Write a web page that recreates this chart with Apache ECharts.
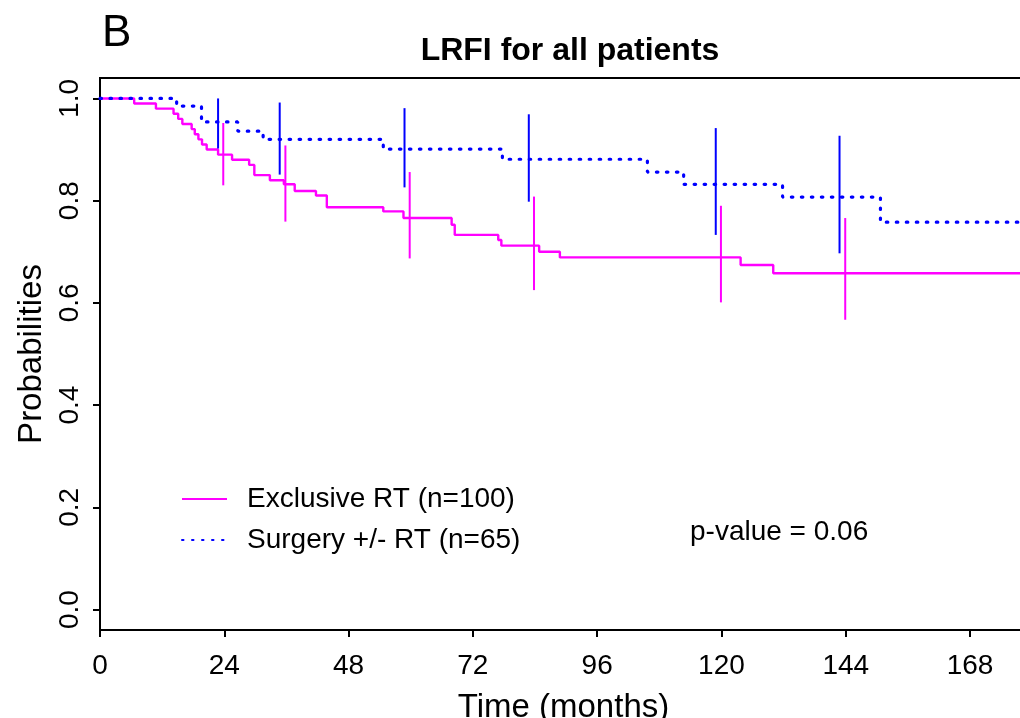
<!DOCTYPE html>
<html>
<head>
<meta charset="utf-8">
<script src="https://cdn.jsdelivr.net/npm/echarts@6/dist/echarts.min.js"></script>
<style>
  html, body { margin: 0; padding: 0; background: #fff; }
  #chart { width: 1020px; height: 718px; }
</style>
</head>
<body>
<div id="chart"></div>
<script>
// Kaplan-Meier steps: [month, probability]
const rtSteps = [
  [0, 1], [6.6, 0.99], [10.8, 0.98], [14.2, 0.97], [15.1, 0.96], [15.9, 0.95],
  [17.7, 0.94], [18.3, 0.93], [19.0, 0.92], [19.7, 0.91], [20.6, 0.90],
  [22.8, 0.89], [25.5, 0.88], [28.8, 0.87], [29.8, 0.85], [32.8, 0.84],
  [35.5, 0.832], [37.6, 0.819], [41.7, 0.81], [43.8, 0.787], [54.7, 0.779],
  [58.6, 0.766], [67.9, 0.753], [68.5, 0.733], [76.9, 0.723], [77.5, 0.712],
  [84.8, 0.70], [88.8, 0.689], [123.7, 0.674], [130.0, 0.658], [179, 0.658]
];
const surgerySteps = [
  [0, 1], [14.8, 0.985], [19.6, 0.954], [26.6, 0.936], [31.5, 0.92],
  [54.7, 0.901], [77.7, 0.881], [105.7, 0.856], [112.7, 0.832],
  [131.8, 0.807], [150.7, 0.758], [179, 0.758]
];

// confidence interval bars
const rtCiTimes = [23.8, 35.8, 59.8, 83.8, 119.9, 143.9];
const rtCiLow = [0.830, 0.759, 0.687, 0.625, 0.601, 0.567];
const rtCiHigh = [0.952, 0.908, 0.856, 0.808, 0.790, 0.766];
const surgeryCiTimes = [22.8, 34.7, 58.8, 82.8, 118.9, 142.8];
const surgeryCiLow = [0.902, 0.851, 0.826, 0.798, 0.733, 0.697];
const surgeryCiHigh = [1.0, 0.992, 0.981, 0.969, 0.942, 0.927];

const xTicks = [0, 24, 48, 72, 96, 120, 144, 168];
const yTicks = [0, 0.2, 0.4, 0.6, 0.8, 1.0];

const seriesNames = ["Exclusive RT (n=100)", "Surgery +/- RT (n=65)"];
const MAGENTA = "#ff00ff";
const BLUE = "#0000ff";
const FONT = "'Liberation Sans', Arial, sans-serif";

function ciSeries(times, low, high, color) {
  return {
    type: "custom",
    silent: true,
    clip: true,
    data: times.map((t, i) => [t, low[i], high[i]]),
    renderItem: (params, api) => {
      const p1 = api.coord([api.value(0), api.value(1)]);
      const p2 = api.coord([api.value(0), api.value(2)]);
      return {
        type: "line",
        shape: { x1: p1[0], y1: p1[1], x2: p2[0], y2: p2[1] },
        style: { stroke: color, lineWidth: 2 },
      };
    },
    z: 3,
  };
}

const chart = echarts.init(document.getElementById("chart"));

const option = {
  animation: false,
  backgroundColor: "#fff",
  textStyle: { fontFamily: FONT },
  title: [
    { text: "B", left: 97, top: 7, textStyle: { fontSize: 44, fontWeight: "normal", color: "#000", fontFamily: FONT } },
    { text: "LRFI for all patients", left: 565, top: 30, textAlign: "center",
      textStyle: { fontSize: 32, fontWeight: "bold", color: "#000", fontFamily: FONT } },
  ],
  grid: {
    left: 100, top: 78, width: 927, height: 552,
    outerBoundsMode: "none",
    show: true, borderColor: "#000", borderWidth: 2, backgroundColor: "transparent",
  },
  legend: {
    orient: "vertical",
    left: 181, top: 485, padding: 0,
    itemWidth: 45, itemHeight: 14, itemGap: 13,
    itemStyle: { opacity: 0 },
    data: seriesNames,
    textStyle: { fontSize: 28, color: "#000", fontFamily: FONT, padding: [0, 0, 0, 15] },
  },
  xAxis: {
    type: "value", min: 0, max: 179,
    name: "Time (months)", nameLocation: "middle", nameGap: 61,
    nameTextStyle: { fontSize: 33, color: "#000", fontFamily: FONT },
    axisLine: { show: false, onZero: false },
    axisTick: { show: true, inside: false, customValues: xTicks, length: 7, lineStyle: { color: "#000", width: 2 } },
    axisLabel: { customValues: xTicks, fontSize: 28, color: "#000", margin: 22, fontFamily: FONT },
    splitLine: { show: false },
  },
  yAxis: {
    type: "value", min: -0.04, max: 1.04,
    name: "Probabilities", nameLocation: "middle", nameGap: 47,
    nameTextStyle: { fontSize: 33, color: "#000", fontFamily: FONT },
    axisLine: { show: false, onZero: false },
    axisTick: { show: true, inside: false, customValues: yTicks, length: 7, lineStyle: { color: "#000", width: 2 } },
    axisLabel: {
      customValues: yTicks, rotate: 90, fontSize: 28, color: "#000", margin: 16, fontFamily: FONT,
      formatter: (v) => v.toFixed(1),
    },
    splitLine: { show: false },
  },
  series: [
    {
      name: seriesNames[0], type: "line", step: "end", data: rtSteps,
      symbol: "none", color: MAGENTA,
      lineStyle: { color: MAGENTA, width: 2.4 }, z: 2,
    },
    {
      name: seriesNames[1], type: "line", step: "end", data: surgerySteps,
      symbol: "none", color: BLUE,
      lineStyle: { color: BLUE, width: 3.2, type: [1.5, 8.5], cap: "round" }, z: 2,
    },
    ciSeries(rtCiTimes, rtCiLow, rtCiHigh, MAGENTA),
    ciSeries(surgeryCiTimes, surgeryCiLow, surgeryCiHigh, BLUE),
  ],
  graphic: [
    { type: "text", x: 690, y: 532,
      style: { text: "p-value = 0.06", font: "28px " + FONT, fill: "#000", verticalAlign: "middle" } },
  ],
};

chart.setOption(option);
</script>
</body>
</html>
